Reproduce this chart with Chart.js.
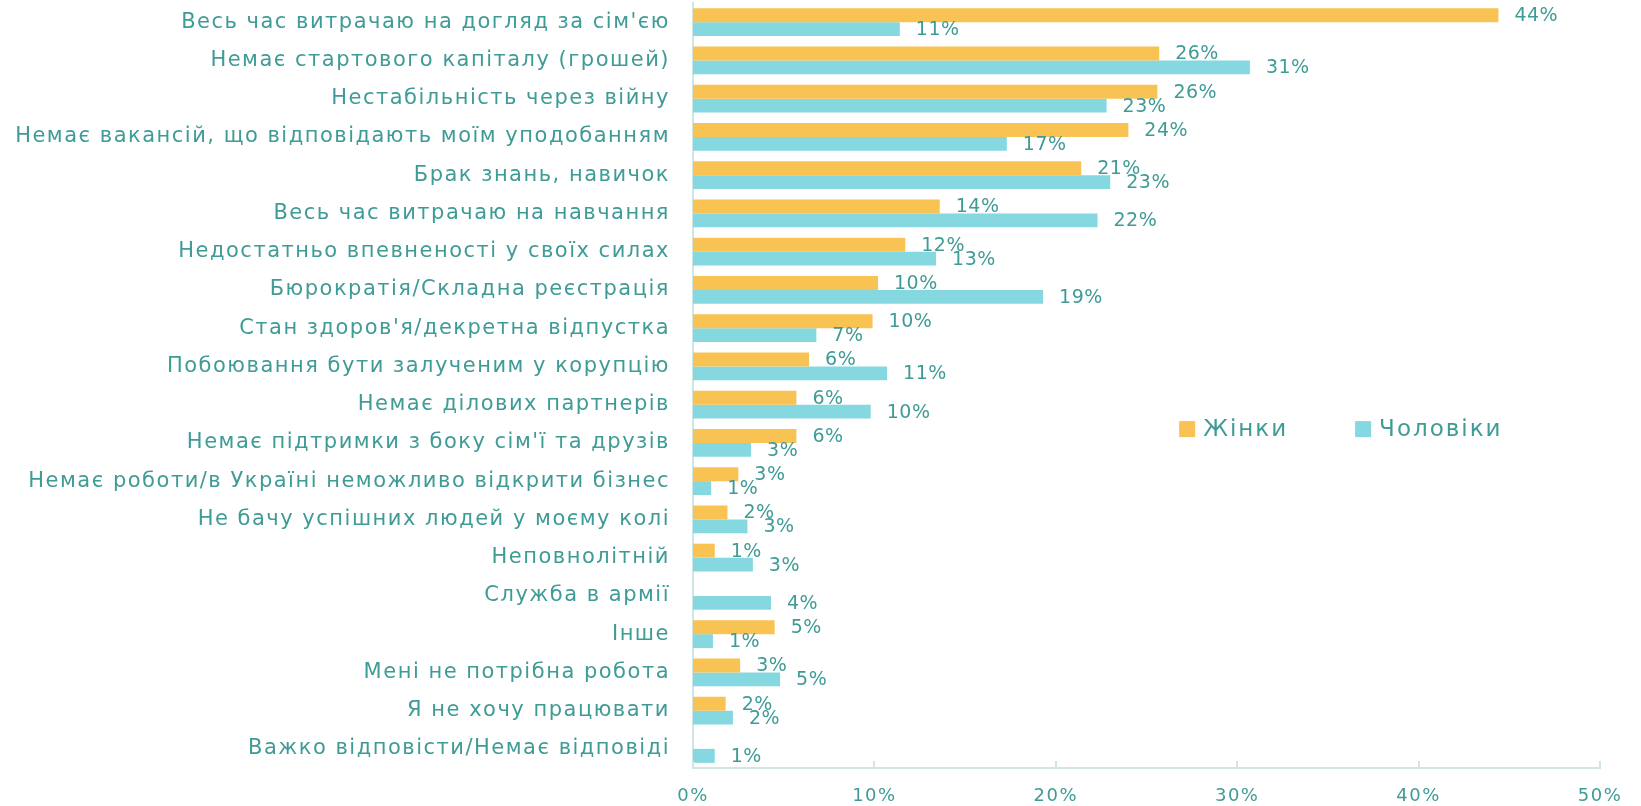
<!DOCTYPE html>
<html>
<head>
<meta charset="utf-8">
<script src="https://cdn.jsdelivr.net/npm/chart.js@4.4.1/dist/chart.umd.min.js"></script>
<style>
  html, body { margin: 0; padding: 0; background: #fff; }
  #wrap { width: 1641px; height: 806px; }
</style>
</head>
<body>
<div id="wrap"><canvas id="chart"></canvas></div>
<script>
const categories = [
  "Весь час витрачаю на догляд за сім'єю",
  "Немає стартового капіталу (грошей)",
  "Нестабільність через війну",
  "Немає вакансій, що відповідають моїм уподобанням",
  "Брак знань, навичок",
  "Весь час витрачаю на навчання",
  "Недостатньо впевненості у своїх силах",
  "Бюрократія/Складна реєстрація",
  "Стан здоров'я/декретна відпустка",
  "Побоювання бути залученим у корупцію",
  "Немає ділових партнерів",
  "Немає підтримки з боку сім'ї та друзів",
  "Немає роботи/в Україні неможливо відкрити бізнес",
  "Не бачу успішних людей у моєму колі",
  "Неповнолітній",
  "Служба в армії",
  "Інше",
  "Мені не потрібна робота",
  "Я не хочу працювати",
  "Важко відповісти/Немає відповіді"
];
const women = [44.4, 25.7, 25.6, 24.0, 21.4, 13.6, 11.7, 10.2, 9.9, 6.4, 5.7, 5.7, 2.5, 1.9, 1.2, 0, 4.5, 2.6, 1.8, 0];
const men   = [11.4, 30.7, 22.8, 17.3, 23.0, 22.3, 13.4, 19.3, 6.8, 10.7, 9.8, 3.2, 1.0, 3.0, 3.3, 4.3, 1.1, 4.8, 2.2, 1.2];
const seriesNames = ["Жінки", "Чоловіки"];
const xMin = 0, xMax = 50, xStep = 10;

const textColor = '#3f9b96';
const axisColor = '#cfe6e5';
const colors = ['#f8c352', '#85d8e0'];
const fontFamily = '"DejaVu Sans", sans-serif';

// wider letter spacing for axis text (original font is a wide one)
const spacing = {
  id: 'spacing',
  beforeDraw(chart) {
    chart.ctx.letterSpacing = '1.5px';
  }
};

// value labels to the right of every bar
const valueLabels = {
  id: 'valueLabels',
  afterDatasetsDraw(chart) {
    const ctx = chart.ctx;
    ctx.save();
    ctx.letterSpacing = '0.5px';
    ctx.font = '19px ' + fontFamily;
    ctx.fillStyle = textColor;
    ctx.textBaseline = 'middle';
    ctx.textAlign = 'left';
    chart.data.datasets.forEach((ds, i) => {
      chart.getDatasetMeta(i).data.forEach((bar, j) => {
        const v = ds.data[j];
        if (!v) return;
        ctx.fillText(Math.round(v) + '%', bar.x + 16, bar.y + 1);
      });
    });
    ctx.restore();
  }
};

// small inward tick marks on the x axis + legend inside the plot
const extras = {
  id: 'extras',
  afterDraw(chart) {
    const ctx = chart.ctx;
    const area = chart.chartArea;
    const xs = chart.scales.x;
    ctx.save();
    ctx.strokeStyle = axisColor;
    ctx.lineWidth = 2;
    xs.ticks.forEach(t => {
      const px = Math.round(xs.getPixelForValue(t.value));
      ctx.beginPath();
      ctx.moveTo(px, area.bottom);
      ctx.lineTo(px, area.bottom - 7);
      ctx.stroke();
    });

    ctx.font = '23px ' + fontFamily;
    ctx.letterSpacing = '2px';
    ctx.textBaseline = 'middle';
    const ly = area.top + (area.bottom - area.top) * 0.557;
    const starts = [0.536, 0.73];
    chart.data.datasets.forEach((ds, i) => {
      const lx = area.left + (area.right - area.left) * starts[i];
      ctx.fillStyle = ds.backgroundColor;
      ctx.fillRect(lx, ly - 8, 16, 16);
      ctx.fillStyle = textColor;
      ctx.fillText(ds.label, lx + 24, ly + 1);
    });
    ctx.restore();
  }
};

new Chart(document.getElementById('chart'), {
  type: 'bar',
  data: {
    labels: categories,
    datasets: [
      { label: seriesNames[0], data: women, backgroundColor: colors[0] },
      { label: seriesNames[1], data: men, backgroundColor: colors[1] }
    ]
  },
  options: {
    indexAxis: 'y',
    responsive: true,
    maintainAspectRatio: false,
    animation: false,
    layout: { padding: { top: 3, right: 41, left: 0, bottom: 0 } },
    datasets: { bar: { categoryPercentage: 0.73, barPercentage: 1 } },
    plugins: {
      legend: { display: false },
      tooltip: { enabled: false }
    },
    scales: {
      x: {
        min: xMin,
        max: xMax,
        grid: { display: false, drawTicks: false },
        border: { display: true, color: axisColor, width: 2 },
        ticks: {
          stepSize: xStep,
          padding: 18,
          color: textColor,
          font: { family: fontFamily, size: 18 },
          callback: v => v + '%'
        },
        afterFit: s => { s.height = 38; s.paddingLeft = 0; }
      },
      y: {
        grid: { display: false, drawTicks: false },
        border: { display: true, color: axisColor, width: 2 },
        ticks: {
          autoSkip: false,
          padding: 23,
          color: textColor,
          font: { family: fontFamily, size: 21 }
        },
        afterFit: s => { s.width = 693; s.paddingTop = 0; s.paddingBottom = 0; }
      }
    }
  },
  plugins: [spacing, valueLabels, extras]
});
</script>
</body>
</html>
